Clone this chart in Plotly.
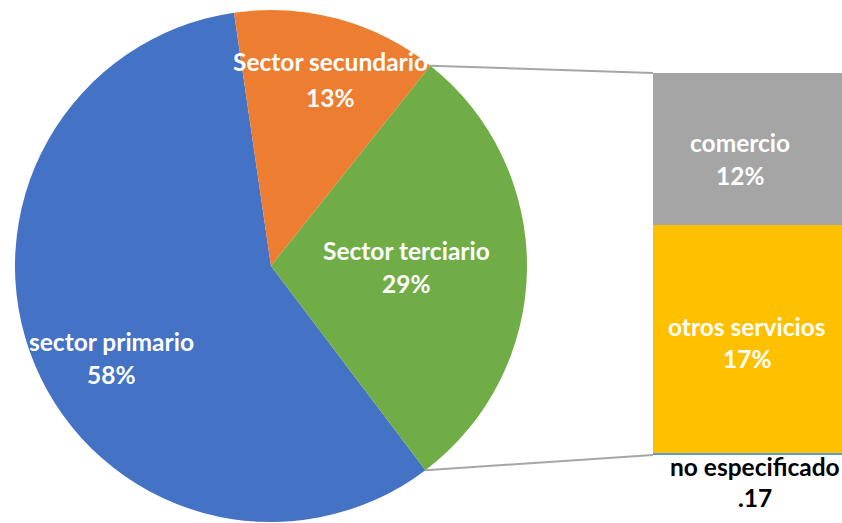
import math
import plotly.graph_objects as go

# ---- data ----
pie_labels = ["sector primario", "Sector secundario", "Sector terciario"]
pie_values = [58, 13, 29]
pie_colors = ["#4472C4", "#ED7D31", "#70AD47"]

bar_labels = ["no especificado", "otros servicios", "comercio"]
bar_values = [0.17, 17.4, 11.6]
bar_texts = [".17", "17%", "12%"]
bar_colors = ["#5B9BD5", "#FFC000", "#A5A5A5"]

W, H = 842, 523
FONT = "Lato"
FS = 24.5

# ---- layout geometry (pixels) ----
cx, cy, R = 271, 266, 256
pie_dom_x = [(cx - R) / W, (cx + R) / W]
pie_dom_y = [(H - (cy + R)) / H, (H - (cy - R)) / H]
bar_left, bar_top, bar_bottom = 653, 73, 455
bar_dom_x = [bar_left / W, 1.0]
bar_dom_y = [(H - bar_bottom) / H, (H - bar_top) / H]

start_sec = -8.3  # clockwise degrees from 12 o'clock where 2nd slice begins
total = sum(pie_values)
rotation = (start_sec - pie_values[0] / total * 360) % 360

fig = go.Figure()
fig.add_trace(go.Pie(
    labels=pie_labels, values=pie_values, sort=False, direction="clockwise",
    rotation=rotation, marker=dict(colors=pie_colors, line=dict(width=0)),
    textinfo="none", hoverinfo="label+percent", showlegend=False,
    domain=dict(x=pie_dom_x, y=pie_dom_y),
))

for lab, val, col in zip(bar_labels, bar_values, bar_colors):
    fig.add_trace(go.Bar(
        x=[0], y=[val], name=lab, marker=dict(color=col, line=dict(width=0)),
        width=1, xaxis="x", yaxis="y", showlegend=False,
    ))

# connector lines from terciario slice edges to bar corners
a0 = rotation + (pie_values[0] + pie_values[1]) / total * 360
a1 = rotation + 360
def pt(a):
    r = math.radians(a)
    return cx + R * math.sin(r), cy - R * math.cos(r)
shapes = []
bar_total = sum(bar_values)
for a, yb in ((a0, bar_top), (a1, bar_bottom)):
    px, py = pt(a)
    shapes.append(dict(type="line", xref="paper", yref="paper",
                       x0=px / W, y0=(H - py) / H, x1=bar_left / W, y1=(H - yb) / H,
                       line=dict(color="#A6A6A6", width=2), layer="below"))

def ann(x, y, txt, color="white"):
    return dict(x=x / W, y=(H - y) / H, xref="paper", yref="paper", text=f"<b>{txt}</b>",
                showarrow=False, xanchor="center", yanchor="middle",
                font=dict(family=FONT, size=FS, color=color), align="center")

pct = [f"{round(v / total * 100)}%" for v in pie_values]
label_pos = [  # (name, value, x, y line1, y line2, colour)
    (pie_labels[0], pct[0], 111, 341, 374, "white"),
    (pie_labels[1], pct[1], 330, 62, 97, "white"),
    (pie_labels[2], pct[2], 406, 250, 283, "white"),
    (bar_labels[2], bar_texts[2], 740, 142, 175, "white"),
    (bar_labels[1], bar_texts[1], 747, 326, 358, "white"),
    (bar_labels[0], bar_texts[0], 755, 466, 497, "black"),
]
annotations = []
for name, val, x, y1, y2, col in label_pos:
    annotations.append(ann(x, y1, name, col))
    annotations.append(ann(x, y2, val, col))

fig.update_layout(
    width=W, height=H, autosize=False, margin=dict(l=0, r=0, t=0, b=0),
    paper_bgcolor="white", plot_bgcolor="rgba(0,0,0,0)", barmode="stack",
    xaxis=dict(domain=bar_dom_x, range=[-0.5, 0.5], visible=False, fixedrange=True),
    yaxis=dict(domain=bar_dom_y, range=[0, bar_total], visible=False, fixedrange=True),
    shapes=shapes, annotations=annotations,
)

fig.write_html("out.html", config={"displayModeBar": False},
               post_script="document.body.style.margin='0';")
